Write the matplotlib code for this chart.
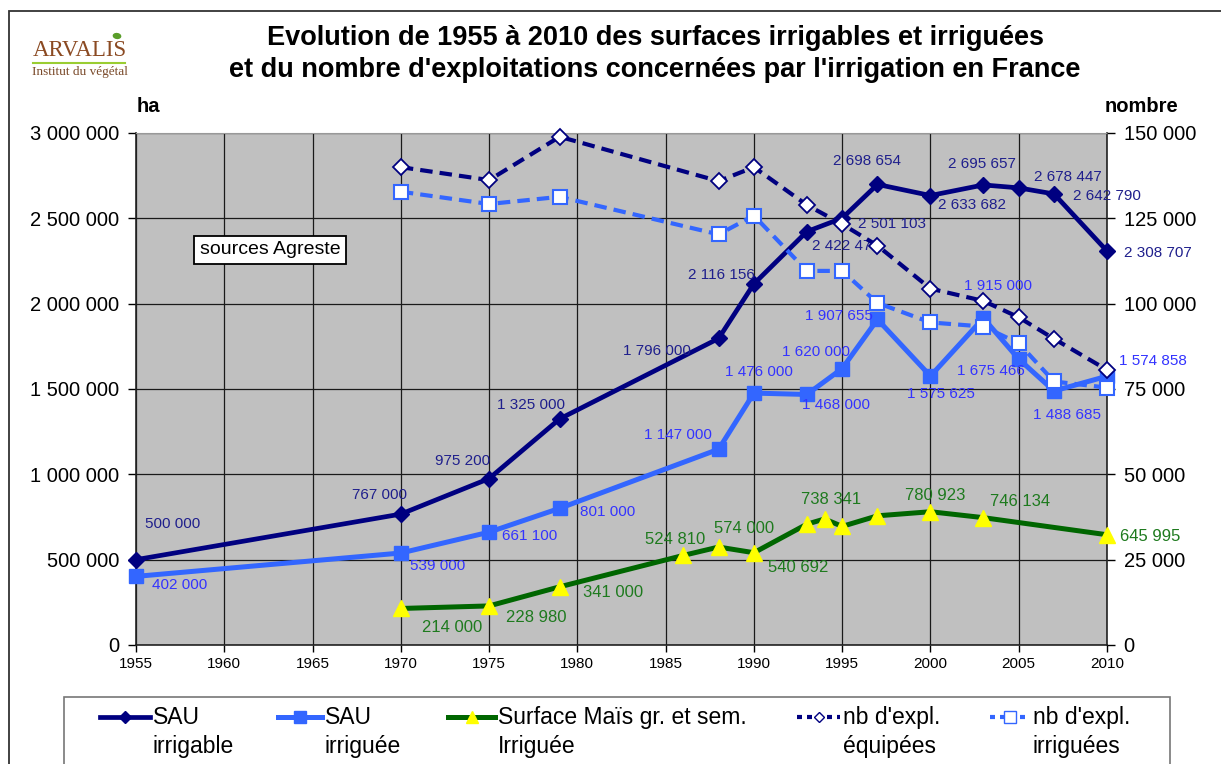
import matplotlib; matplotlib.use('agg')
import matplotlib.pyplot as plt
from matplotlib.lines import Line2D
from matplotlib.patches import Rectangle, Ellipse
from matplotlib.ticker import FuncFormatter, MultipleLocator

plt.rcParams['font.family'] = ['Liberation Sans', 'DejaVu Sans']

# SAU irrigable (ha)
years_irrigable = [1955, 1970, 1975, 1979, 1988, 1990, 1993, 1995, 1997, 2000, 2003, 2005, 2007, 2010]
sau_irrigable = [500000, 767000, 975200, 1325000, 1796000, 2116156, 2422470, 2501103,
                 2698654, 2633682, 2695657, 2678447, 2642790, 2308707]

# SAU irriguee (ha)
years_irriguee = [1955, 1970, 1975, 1979, 1988, 1990, 1993, 1995, 1997, 2000, 2003, 2005, 2007, 2010]
sau_irriguee = [402000, 539000, 661100, 801000, 1147000, 1476000, 1468000, 1620000,
                1907655, 1575625, 1915000, 1675466, 1488685, 1574858]

# Surface mais grain et semence irriguee (ha)
years_mais = [1970, 1975, 1979, 1986, 1988, 1990, 1993, 1994, 1995, 1997, 2000, 2003, 2010]
mais_irrigue = [214000, 228980, 341000, 524810, 574000, 540692, 708000, 738341,
                695000, 757000, 780923, 746134, 645995]

# nombre d'exploitations (axe de droite)
years_expl = [1970, 1975, 1979, 1988, 1990, 1993, 1995, 1997, 2000, 2003, 2005, 2007, 2010]
expl_equipees = [140000, 136200, 148900, 135900, 140000, 128900, 123300, 117000,
                 104400, 100800, 96000, 89700, 80600]
expl_irriguees = [132800, 129200, 131300, 120300, 125800, 109600, 109600, 100200,
                  94500, 93300, 88400, 77200, 75400]

NAVY = '#000080'
BLUE = '#3366FF'
GREEN = '#006600'
YELLOW = '#FFFF00'
NAVY_TXT = '#1F1F8C'
BLUE_TXT = '#3333FF'
GREEN_TXT = '#1E7A1E'


def fmt(v):
    return '{:,.0f}'.format(v).replace(',', ' ')


fig = plt.figure(figsize=(12.21, 7.64), dpi=100)
W, H = 1221.0, 764.0

# outer frame of the chart
fig.add_artist(Rectangle((9 / W, -0.05), 1.1, 1 - 11 / H + 0.05, transform=fig.transFigure,
                         fill=False, edgecolor='#333333', lw=1.3))

ax = fig.add_axes([136 / W, 1 - 645 / H, (1107 - 136) / W, (645 - 133) / H])
ax.set_facecolor('#C0C0C0')
ax.set_xlim(1955, 2010)
ax.set_ylim(0, 3000000)
ax.xaxis.set_major_locator(MultipleLocator(5))
ax.yaxis.set_major_locator(MultipleLocator(500000))
ax.yaxis.set_major_formatter(FuncFormatter(lambda v, p: fmt(v)))
ax.grid(True, color='#1a1a1a', lw=0.9)
ax.set_axisbelow(True)
ax.tick_params(axis='y', labelsize=14.5, length=6, width=1, direction='out', pad=6)
ax.tick_params(axis='x', labelsize=11, length=5, width=1, direction='out', pad=4)
for s in ['left', 'bottom', 'right']:
    ax.spines[s].set_color('#222222')
    ax.spines[s].set_linewidth(1.2)
ax.spines['top'].set_color('#999999')

ax2 = ax.twinx()
ax2.set_ylim(0, 150000)
ax2.yaxis.set_major_locator(MultipleLocator(25000))
ax2.yaxis.set_major_formatter(FuncFormatter(lambda v, p: fmt(v)))
ax2.tick_params(axis='y', labelsize=14.5, length=6, width=1, direction='out', pad=6)
for s in ax2.spines.values():
    s.set_visible(False)

ax.plot(years_mais, mais_irrigue, color=GREEN, lw=3.6, marker='^', ms=11,
        mfc=YELLOW, mec=YELLOW, zorder=3, clip_on=False)
ax.plot(years_irriguee, sau_irriguee, color=BLUE, lw=3.6, marker='s', ms=9.5,
        mfc=BLUE, mec=BLUE, zorder=4, clip_on=False)
ax.plot(years_irrigable, sau_irrigable, color=NAVY, lw=3.4, marker='D', ms=8.5,
        mfc=NAVY, mec=NAVY, zorder=5, clip_on=False)
ax2.plot(years_expl, expl_equipees, color=NAVY, lw=3.0, ls=(0, (3, 1.7)), marker='D',
         ms=8, mfc='white', mec=NAVY, mew=1.3, clip_on=False)
ax2.plot(years_expl, expl_irriguees, color=BLUE, lw=3.0, ls=(0, (3, 1.7)), marker='s',
         ms=10.5, mfc='white', mec=BLUE, mew=1.5, clip_on=False)

# data labels: pixel offsets (dx, dy) from each point, dy upward
off_irrigable = [(37, 36), (-21, 19), (-27, 18), (-29, 14), (-62, -13), (-32, 9),
                 (39, -14), (50, -6), (-10, 23), (42, -9), (-1, 21), (49, 11), (53, -2), (51, -2)]
off_irriguee = [(44, -9), (37, -13), (41, -4), (48, -4), (-41, 14), (5, 21),
                (29, -11), (-26, 17), (-39, 3), (10, -18), (15, 32), (-28, -12), (13, -24), (46, 15)]
off_mais = [(51, -19), (47, -12), (53, -6), (-8, 16), (25, 19), (44, -15),
            None, (7, 19), None, None, (5, 16), (37, 16), (43, -2)]

for x, y, o in zip(years_irrigable, sau_irrigable, off_irrigable):
    ax.annotate(fmt(y), (x, y), xytext=o, textcoords='offset pixels', ha='center',
                va='center', fontsize=11, color=NAVY_TXT, zorder=6)
for x, y, o in zip(years_irriguee, sau_irriguee, off_irriguee):
    ax.annotate(fmt(y), (x, y), xytext=o, textcoords='offset pixels', ha='center',
                va='center', fontsize=11, color=BLUE_TXT, zorder=6)
for x, y, o in zip(years_mais, mais_irrigue, off_mais):
    if o is None:
        continue
    ax.annotate(fmt(y), (x, y), xytext=o, textcoords='offset pixels', ha='center',
                va='center', fontsize=12, color=GREEN_TXT, zorder=6)

ax.text(0.138, 0.772, 'sources Agreste', transform=ax.transAxes, fontsize=14,
        ha='center', va='center', zorder=7,
        bbox=dict(boxstyle='square,pad=0.28', fc='white', ec='black', lw=1.3))

# titles and axis units
fig.text(655 / W, 1 - 38 / H, 'Evolution de 1955 à 2010 des surfaces irrigables et irriguées',
         fontsize=19.5, fontweight='bold', ha='center', va='center')
fig.text(655 / W, 1 - 70 / H, "et du nombre d'exploitations concernées par l'irrigation en France",
         fontsize=19.5, fontweight='bold', ha='center', va='center')
fig.text(148 / W, 1 - 106 / H, 'ha', fontsize=14.5, fontweight='bold', ha='center', va='center')
fig.text(1141 / W, 1 - 106 / H, 'nombre', fontsize=14.5, fontweight='bold', ha='center', va='center')

# logo
fig.text(80 / W, 1 - 50 / H, 'ARVALIS', family='Liberation Serif', fontsize=16.5,
         color='#8B4A22', ha='center', va='center')
fig.add_artist(Line2D([33 / W, 125 / W], [1 - 63 / H, 1 - 63 / H], transform=fig.transFigure,
                      color='#9ACD32', lw=1.5))
fig.add_artist(Ellipse((117 / W, 1 - 36 / H), 7 / W, 5 / H, angle=30, transform=fig.transFigure,
                       color='#5A9E2A'))
fig.text(80 / W, 1 - 72 / H, 'Institut du végétal', family='Liberation Serif', fontsize=9.5,
         color='#7A4A2A', ha='center', va='center')

# legend box and entries
fig.add_artist(Rectangle((64 / W, -0.05), (1170 - 64) / W, 1 - 697 / H + 0.05,
                         transform=fig.transFigure, fill=False, edgecolor='#777777', lw=1.2))
legend_items = [
    (100, 150, 'SAU\nirrigable', dict(color=NAVY, lw=3.4, marker='D', ms=6, mfc=NAVY, mec=NAVY)),
    (278, 322, 'SAU\nirriguée', dict(color=BLUE, lw=3.6, marker='s', ms=8, mfc=BLUE, mec=BLUE)),
    (448, 495, 'Surface Maïs gr. et sem.\nIrriguée',
     dict(color=GREEN, lw=3.6, marker='^', ms=9, mfc=YELLOW, mec=YELLOW)),
    (797, 840, "nb d'expl.\néquipées",
     dict(color=NAVY, lw=3.0, ls=(0, (1.2, 1.2)), marker='D', ms=5.5, mfc='white', mec=NAVY, mew=1)),
    (990, 1030, "nb d'expl.\nirriguées",
     dict(color=BLUE, lw=3.0, ls=(0, (1.2, 1.2)), marker='s', ms=8, mfc='white', mec=BLUE, mew=1)),
]
for x0, x1, label, style in legend_items:
    ly = 1 - 717 / H
    fig.add_artist(Line2D([x0 / W, (x0 + x1) / 2 / W, x1 / W], [ly, ly, ly],
                          transform=fig.transFigure, markevery=[1], **style))
    fig.text((x1 + 3) / W, 1 - 706 / H, label, fontsize=16.5, ha='left', va='top',
             linespacing=1.32)

fig.savefig('out.png', dpi=100)
